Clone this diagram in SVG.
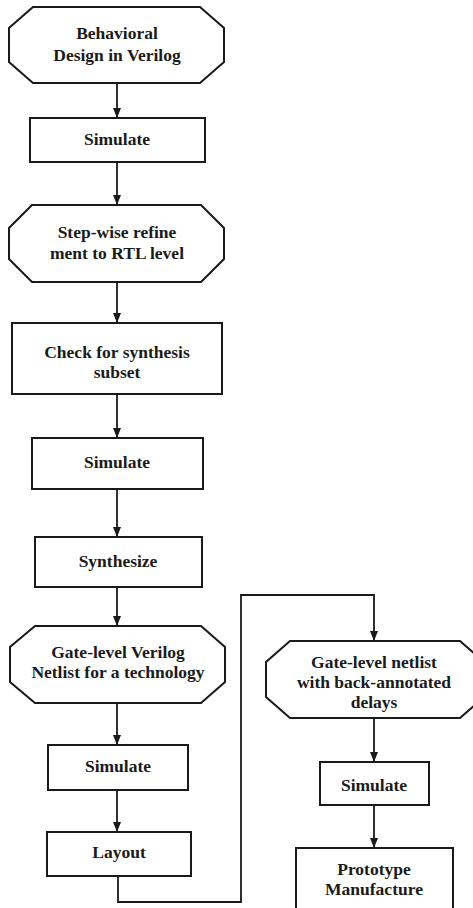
<svg xmlns="http://www.w3.org/2000/svg" width="473" height="908" viewBox="0 0 473 908">
  <style>
    .bg { fill: #ffffff; }
    .node { fill: #ffffff; stroke: #1a1a1a; stroke-width: 2; stroke-linejoin: miter; }
    .label { font-family: "Liberation Serif", "Times New Roman", serif; font-weight: bold; font-size: 17.5px; fill: #1a1a1a; text-anchor: middle; }
    .wire { fill: none; stroke: #1a1a1a; stroke-width: 1.8; }
  </style>
  <defs>
    <marker id="arrow" markerWidth="10" markerHeight="12" refX="10" refY="5" orient="auto" markerUnits="userSpaceOnUse" viewBox="0 0 10 10">
      <path d="M0,1 L10,5 L0,9 Z" fill="#1a1a1a"/>
    </marker>
  </defs>
  <rect class="bg" x="0" y="0" width="473" height="908"/>

  <!-- connectors -->
  <g id="connectors">
    <path class="wire" marker-end="url(#arrow)" d="M117,83 V118"/>
    <path class="wire" marker-end="url(#arrow)" d="M117,162 V205"/>
    <path class="wire" marker-end="url(#arrow)" d="M117,282 V323"/>
    <path class="wire" marker-end="url(#arrow)" d="M117,394 V438"/>
    <path class="wire" marker-end="url(#arrow)" d="M117,489 V537"/>
    <path class="wire" marker-end="url(#arrow)" d="M117,587 V626"/>
    <path class="wire" marker-end="url(#arrow)" d="M117,703 V745"/>
    <path class="wire" marker-end="url(#arrow)" d="M117,790 V832"/>
    <path class="wire" marker-end="url(#arrow)" d="M118,876 V902 H241 V595 H374 V641"/>
    <path class="wire" marker-end="url(#arrow)" d="M374,718 V762"/>
    <path class="wire" marker-end="url(#arrow)" d="M374,805 V848"/>
  </g>

  <!-- left column -->
  <g id="behavioral-design">
    <polygon class="node" points="33,7 200,7 224,28 224,62 200,83 33,83 9,62 9,28"/>
    <text class="label" x="117" y="39">Behavioral</text>
    <text class="label" x="117" y="61">Design in Verilog</text>
  </g>
  <g id="simulate-1">
    <rect class="node" x="30" y="118" width="175" height="44"/>
    <text class="label" x="117" y="145">Simulate</text>
  </g>
  <g id="rtl-refine">
    <polygon class="node" points="32,205 201,205 224,228 224,259 201,282 32,282 9,259 9,228"/>
    <text class="label" x="117" y="238">Step-wise refine</text>
    <text class="label" x="117" y="259">ment to RTL level</text>
  </g>
  <g id="synthesis-check">
    <rect class="node" x="12" y="323" width="210" height="71"/>
    <text class="label" x="117" y="358">Check for synthesis</text>
    <text class="label" x="117" y="378">subset</text>
  </g>
  <g id="simulate-2">
    <rect class="node" x="32" y="438" width="171" height="51"/>
    <text class="label" x="117" y="468">Simulate</text>
  </g>
  <g id="synthesize">
    <rect class="node" x="35" y="537" width="167" height="50"/>
    <text class="label" x="118" y="567">Synthesize</text>
  </g>
  <g id="gate-level-netlist">
    <polygon class="node" points="35,626 201,626 225,647 225,682 201,703 35,703 10,682 10,647"/>
    <text class="label" x="118" y="658">Gate-level Verilog</text>
    <text class="label" x="118" y="678">Netlist for a technology</text>
  </g>
  <g id="simulate-3">
    <rect class="node" x="48" y="745" width="140" height="45"/>
    <text class="label" x="118" y="772">Simulate</text>
  </g>
  <g id="layout">
    <rect class="node" x="47" y="832" width="144" height="44"/>
    <text class="label" x="119" y="858">Layout</text>
  </g>

  <!-- right column -->
  <g id="back-annotated-netlist">
    <polygon class="node" points="290,641 460,641 484,662 484,697 460,718 290,718 266,697 266,662"/>
    <text class="label" x="374" y="668">Gate-level netlist</text>
    <text class="label" x="374" y="688">with back-annotated</text>
    <text class="label" x="374" y="708">delays</text>
  </g>
  <g id="simulate-4">
    <rect class="node" x="320" y="762" width="109" height="43"/>
    <text class="label" x="374" y="791">Simulate</text>
  </g>
  <g id="prototype">
    <rect class="node" x="296" y="848" width="157" height="72"/>
    <text class="label" x="374" y="875">Prototype</text>
    <text class="label" x="374" y="895">Manufacture</text>
  </g>
</svg>
